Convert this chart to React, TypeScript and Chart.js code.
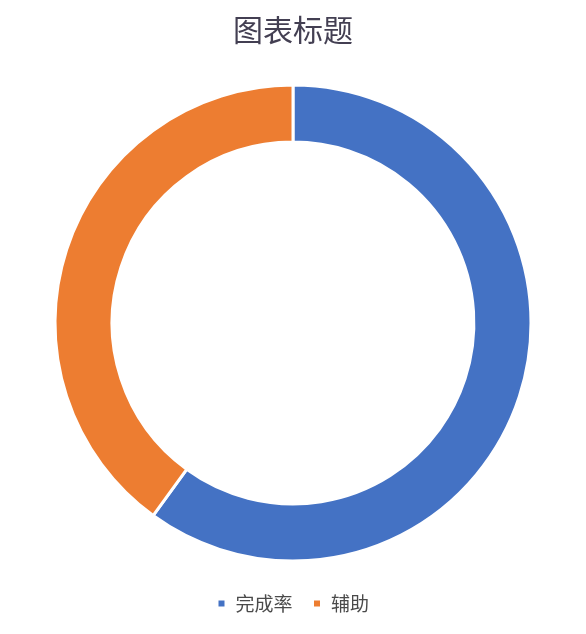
import React, { useEffect, useRef } from "react";
import Chart from "chart.js/auto";

// chart data
const labels = ["完成率", "辅助"];
const values = [60, 40];
const colors = ["#4472C4", "#ED7D31"];
const title = "图表标题";

const FONT = "'Noto Sans CJK SC', 'Noto Sans', sans-serif";

export default function App() {
    const canvas = useRef<HTMLCanvasElement>(null);

    useEffect(() => {
        document.body.style.margin = "0";
        const chart = new Chart(canvas.current!, {
            type: "doughnut",
            data: {
                labels: labels,
                datasets: [{
                    data: values,
                    backgroundColor: colors,
                    borderColor: "#ffffff",
                    borderWidth: 3,
                }],
            },
            options: {
                animation: false,
                responsive: true,
                maintainAspectRatio: false,
                cutout: "76%",
                radius: 238,
                layout: { padding: { left: 0, right: 0, top: 0, bottom: 11 } },
                plugins: {
                    title: {
                        display: true,
                        text: title,
                        color: "#433f52",
                        font: { family: FONT, size: 30, weight: "normal" },
                        padding: { top: 12, bottom: 24 },
                    },
                    legend: {
                        position: "bottom",
                        labels: {
                            color: "#4a4a4a",
                            font: { family: FONT, size: 19 },
                            boxWidth: 9,
                            boxHeight: 9,
                            padding: 20,
                        },
                    },
                    tooltip: { enabled: false },
                },
            },
        });

        return () => {
            chart.destroy();
        };
    }, []);

    return (
        <div style={{ width: 586, height: 634, position: "relative", background: "#ffffff" }}>
            <canvas ref={canvas}></canvas>
        </div>
    );
}
